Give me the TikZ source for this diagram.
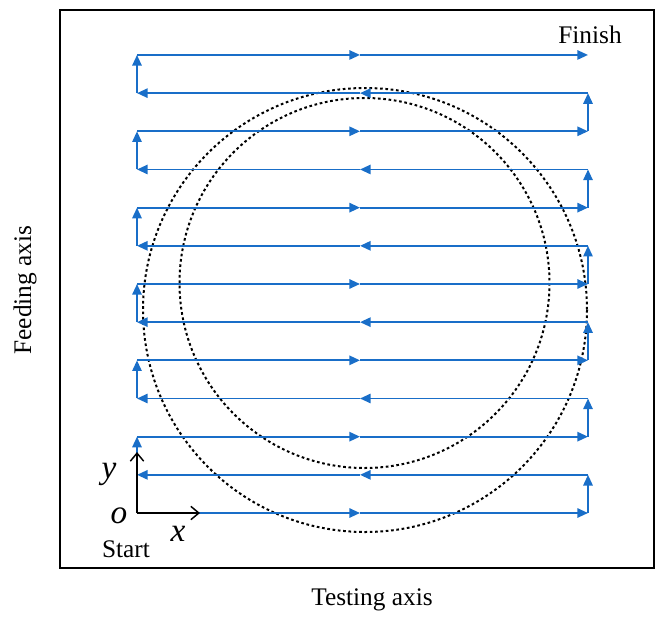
\documentclass[tikz,border=0pt]{standalone}
\usepackage{fontspec}
\setmainfont{Liberation Serif}
\usetikzlibrary{arrows.meta}
\definecolor{pathblue}{RGB}{25,110,200}
\tikzset{
  path/.style={pathblue,line width=1.4pt,-{Triangle[length=8pt,width=7pt]}},
  circ/.style={black,dash pattern=on 2pt off 2pt,line width=1.5pt},
  axis/.style={black,line width=1.1pt,-{Straight Barb[length=6pt,width=10pt]}},
  lbl/.style={font=\fontsize{19}{21}\selectfont,inner sep=0pt},
  ilbl/.style={font=\fontsize{25}{27}\selectfont\itshape,inner sep=0pt}
}
\begin{document}
\begin{tikzpicture}[x=0.75pt,y=-0.75pt]
\useasboundingbox (0,0) rectangle (663,618);
\draw[line width=1.4pt] (60,10) rectangle (654,568);
\draw[circ] (365,310) circle (222);
\draw[circ] (364.5,283) circle (185);
\foreach \i in {0,...,12}{
  \pgfmathsetmacro{\yy}{513-38.17*\i}
  \coordinate (L\i) at (137,\yy);
  \coordinate (R\i) at (588,\yy);
  \coordinate (M\i) at (360,\yy);
}
\foreach \i in {0,2,...,12}{
  \draw[path] (L\i) -- (M\i);
  \draw[path] (M\i) -- (R\i);
}
\foreach \i in {1,3,...,11}{
  \draw[path] (R\i) -- (M\i);
  \draw[path] (M\i) -- (L\i);
}
\foreach \i/\j in {0/1,2/3,4/5,6/7,8/9,10/11}{
  \draw[path] (R\i) -- (R\j);
}
\foreach \i/\j in {1/2,3/4,5/6,7/8,9/10,11/12}{
  \draw[path] (L\i) -- (L\j);
}
\coordinate (O) at (137,513);
\coordinate (Yend) at (137,452);
\coordinate (Xend) at (200,513);
\draw[axis] (O) -- (Yend);
\draw[axis] (O) -- (Xend);
\node[ilbl] (ylab) at (109,474) {y};
\node[ilbl] (olab) at (119,516) {o};
\node[ilbl] (xlab) at (178,534) {x};
\node[lbl] (start) at (126,549) {Start};
\node[lbl] (finish) at (590,35) {Finish};
\node[lbl,rotate=90] (feed) at (25,290) {Feeding axis};
\node[lbl] (test) at (372,600) {Testing axis};
\end{tikzpicture}
\end{document}
